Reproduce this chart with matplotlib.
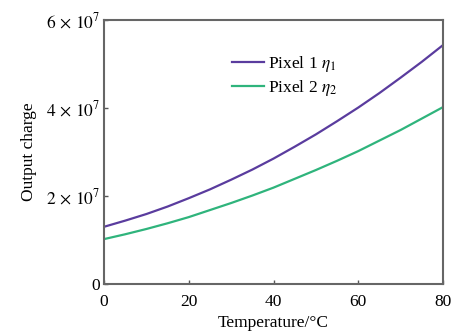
import numpy as np
import matplotlib
matplotlib.use("Agg")
from matplotlib import pyplot as plt

plt.rcParams['font.family'] = ['Liberation Serif', 'DejaVu Serif']
plt.rcParams['mathtext.fontset'] = 'stix'

temperature = [0, 5, 10, 15, 20, 25, 30, 35, 40, 45, 50, 55, 60, 65, 70, 75, 80]
pixel1 = [1.30, 1.44, 1.59, 1.76, 1.95, 2.15, 2.37, 2.60, 2.85, 3.12, 3.40, 3.70, 4.01, 4.34, 4.69, 5.05, 5.43]
pixel2 = [1.02, 1.13, 1.25, 1.38, 1.52, 1.68, 1.84, 2.01, 2.19, 2.39, 2.59, 2.80, 3.02, 3.26, 3.50, 3.76, 4.02]
yticks = [0, 2e7, 4e7, 6e7]
ylabels = ['0', r'$2\,\times\,10^{7}$', r'$4\,\times\,10^{7}$', r'$6\,\times\,10^{7}$']

fig = plt.figure(figsize=(4.57, 3.36), dpi=100)
ax = fig.add_axes([0.2276, 0.1548, 0.7418, 0.7857])

ax.plot(temperature, np.array(pixel1) * 1e7, color='#5a3c9e', lw=1.6, label=r'Pixel 1 $\eta_1$')
ax.plot(temperature, np.array(pixel2) * 1e7, color='#2fb47c', lw=1.6, label=r'Pixel 2 $\eta_2$')

ax.set_xlim(0, 80)
ax.set_ylim(0, 6e7)
ax.set_xticks([0, 20, 40, 60, 80])
ax.set_yticks(yticks)
ax.set_yticklabels(ylabels)
ax.tick_params(direction='in', length=3, width=1, color='#555555', labelsize=12.5)
ax.tick_params(axis='x', pad=7)
ax.tick_params(axis='y', pad=3)
for s in ax.spines.values():
    s.set_color('#666666')
    s.set_linewidth(1.5)

ax.set_xlabel('Temperature/°C', fontsize=12.5, labelpad=4)
ax.set_ylabel('Output charge', fontsize=12.5, labelpad=6)

ax.legend(loc='upper left', bbox_to_anchor=(0.33, 0.93), frameon=False, fontsize=12.5,
          handlelength=1.9, handletextpad=0.2, labelspacing=0.25)

fig.savefig('out.png', dpi=100)
